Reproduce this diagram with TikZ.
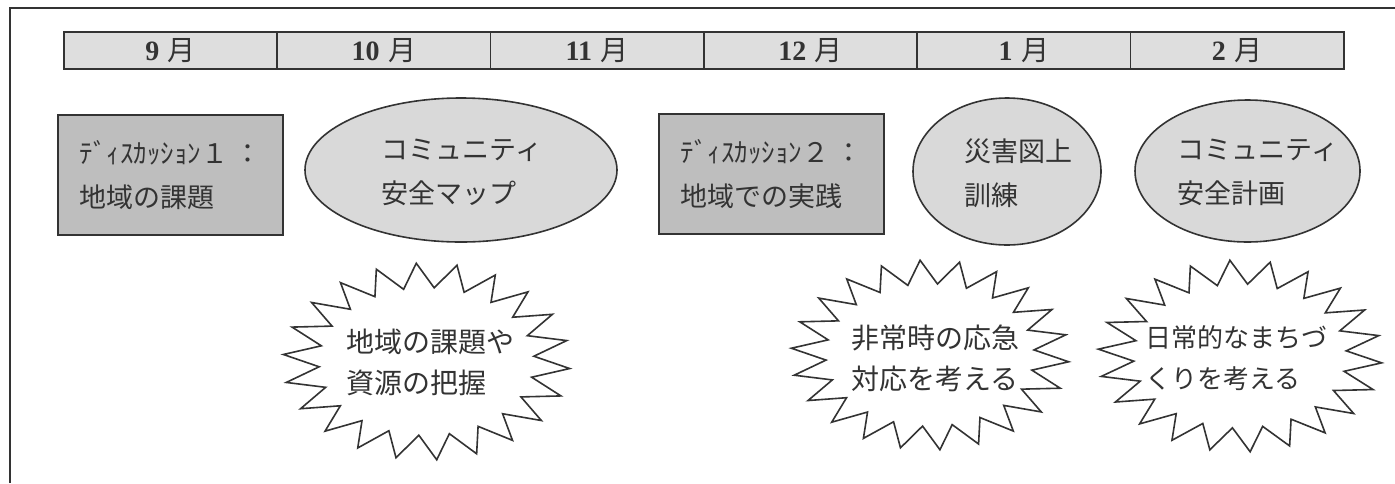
\documentclass[tikz,border=0pt]{standalone}
\usepackage{fontspec}
\setmainfont{Noto Sans CJK JP}
\newfontfamily\serifnum{Liberation Serif}
\usetikzlibrary{shapes.geometric}
\definecolor{ink}{HTML}{333333}
\definecolor{barfill}{HTML}{DEDEDE}
\definecolor{boxfill}{HTML}{BEBEBE}
\definecolor{ovalfill}{HTML}{D9D9D9}
\newcommand{\starburstshape}[4]{%
  \draw[burstline] plot[domain=0:43, samples=44, variable=\t]
    ({#1+#3*(0.875+0.125*cos(\t*180))*cos(\t*360/44+4.09)},
     {#2+#4*(0.875+0.125*cos(\t*180))*sin(\t*360/44+4.09)}) -- cycle;}
\newcommand{\mon}[1]{{\serifnum\bfseries #1}\hspace{0.3em}月}
\begin{document}
\begin{tikzpicture}[x=0.5pt,y=-0.5pt,
  cell/.style={draw=ink, line width=0.8pt, fill=barfill, minimum width=106.67pt,
    minimum height=18.5pt, inner sep=0pt, anchor=north west, text=ink,
    font=\fontsize{14}{16}\selectfont},
  discbox/.style={draw=ink, line width=0.8pt, fill=boxfill, minimum width=112.5pt,
    minimum height=60pt, inner sep=0pt},
  oval/.style={ellipse, draw=ink, line width=0.8pt, fill=ovalfill, inner sep=0pt},
  label13/.style={align=left, text=ink, inner sep=0pt, font=\fontsize{13.5}{22}\selectfont},
  burstline/.style={draw=ink, line width=0.8pt, fill=white, line join=miter},
  bursttext/.style={align=left, text=ink, inner sep=0pt, font=\fontsize{14}{20.5}\selectfont},
  bursttextb/.style={align=left, text=ink, inner sep=0pt, font=\fontsize{13}{20.5}\selectfont}]
\useasboundingbox (0,0) rectangle (1395,483);
\fill[white] (0,0) rectangle (1395,483);
% outer frame
\draw[ink, line width=1pt] (10,483) -- (10,8) -- (1395,8);
% month bar
\node[cell] (m9)  at (63,31)     {\mon{9}};
\node[cell] (m10) at (276.33,31) {\mon{10}};
\node[cell] (m11) at (489.67,31) {\mon{11}};
\node[cell] (m12) at (703,31)    {\mon{12}};
\node[cell] (m1)  at (916.33,31) {\mon{1}};
\node[cell] (m2)  at (1129.67,31){\mon{2}};
% discussion boxes
\node[discbox] (d1) at (170.5,175) {};
\node[label13] (d1t) at (d1.center) {ﾃﾞｨｽｶｯｼｮﾝ１ ：\\地域の課題};
\node[discbox] (d2) at (771.5,174) {};
\node[label13] (d2t) at (d2.center) {ﾃﾞｨｽｶｯｼｮﾝ２ ：\\地域での実践};
% ovals
\node[oval, minimum width=156pt, minimum height=72pt] (o1) at (461,170) {};
\node[label13] (o1t) at (462,172) {コミュニティ\\安全マップ};
\node[oval, minimum width=94pt, minimum height=73.5pt] (o2) at (1007,171.5) {};
\node[label13] (o2t) at (1018,173) {災害図上\\訓練};
\node[oval, minimum width=112.5pt, minimum height=71pt] (o3) at (1247.5,171) {};
\node[label13] (o3t) at (1258,172) {コミュニティ\\安全計画};
% starbursts
\starburstshape{426.5}{361.5}{143.5}{98.5}
\node[bursttext] (b1t) at (430,362) {地域の課題や\\資源の把握};
\starburstshape{930}{355}{139}{95}
\node[bursttext] (b2t) at (935,358) {非常時の応急\\対応を考える};
\starburstshape{1240}{356}{142}{96}
\node[bursttextb] (b3t) at (1236,358) {日常的なまちづ\\くりを考える};
\end{tikzpicture}
\end{document}
